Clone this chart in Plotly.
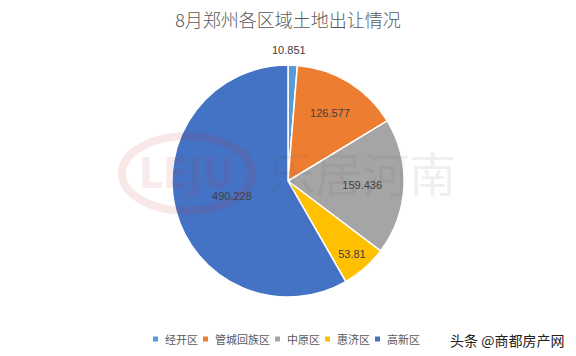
import plotly.graph_objects as go

categories = ["经开区", "管城回族区", "中原区", "惠济区", "高新区"]
values = [10.851, 126.577, 159.436, 53.81, 490.228]
value_labels = ["10.851", "126.577", "159.436", "53.81", "490.228"]
colors = ["#5B9BD5", "#ED7D31", "#A5A5A5", "#FFC000", "#4472C4"]
text_positions = ["none", "inside", "inside", "inside", "inside"]

W, H = 576, 356
fig = go.Figure()
fig.add_trace(go.Pie(
    labels=categories,
    values=values,
    text=value_labels,
    textinfo="text",
    textposition=text_positions,
    insidetextorientation="horizontal",
    sort=False,
    direction="clockwise",
    rotation=0,
    marker=dict(colors=colors, line=dict(color="white", width=1.5)),
    textfont=dict(family="Liberation Sans, Arial", size=11, color="#404040"),
    insidetextfont=dict(family="Liberation Sans, Arial", size=11, color="#404040"),
    domain=dict(x=[172/W, 404/W], y=[1-297/H, 1-65/H]),
    hoverinfo="label+value",
    showlegend=False,
))

# label for the thin first slice, placed above it (as in the reference)
fig.add_annotation(text=value_labels[0], xref="paper", yref="paper", x=289/W, y=1-50/H,
                   xanchor="center", yanchor="middle", showarrow=False,
                   font=dict(family="Liberation Sans, Arial", size=11, color="#404040"))

fig.update_layout(
    width=W, height=H,
    margin=dict(l=0, r=0, t=0, b=0),
    paper_bgcolor="white",
    plot_bgcolor="white",
    title=dict(text="8月郑州各区域土地出让情况", x=0.5, xanchor="center", y=1-21/H, yanchor="middle",
               font=dict(family="Noto Sans CJK SC", size=18, color="#595959", weight=300)),
    showlegend=False,
)

# legend built from categories / colors
x = 153
ly = 339
for cat, col in zip(categories, colors):
    fig.add_shape(type="rect", xref="paper", yref="paper",
                  x0=x/W, x1=(x+5)/W, y0=1-(ly+2.5)/H, y1=1-(ly-2.5)/H,
                  line=dict(width=0), fillcolor=col)
    fig.add_annotation(text=cat, xref="paper", yref="paper", x=(x+10)/W, y=1-ly/H,
                       xanchor="left", yanchor="middle", showarrow=False,
                       font=dict(family="Noto Sans CJK SC", size=11, color="#595959"))
    x += 10 + 11 * len(cat) + 7

# watermark
wm_red = "rgba(200,50,50,0.11)"
fig.add_shape(type="circle", xref="paper", yref="paper",
              x0=122/W, x1=252/W, y0=1-211/H, y1=1-136/H,
              line=dict(color=wm_red, width=8), layer="above")
fig.add_annotation(text="<b>LEJU</b>", xref="paper", yref="paper", x=186/W, y=1-173/H,
                   xanchor="center", yanchor="middle",
                   showarrow=False, font=dict(family="DejaVu Sans Condensed", size=42, color=wm_red))
fig.add_annotation(text="乐居河南", xref="paper", yref="paper", x=362/W, y=1-171/H,
                   xanchor="center", yanchor="middle",
                   showarrow=False, font=dict(family="Noto Sans CJK SC", size=47, color="rgba(90,90,90,0.10)"))
# source mark
fig.add_annotation(text="头条 @商都房产网", xref="paper", yref="paper", x=566/W, y=1-340/H,
                   xanchor="right", yanchor="middle", showarrow=False,
                   font=dict(family="Noto Sans CJK SC", size=14, color="#222222"))

fig.write_html("out.html", config={"displayModeBar": False},
               post_script="document.body.style.margin='0';")
